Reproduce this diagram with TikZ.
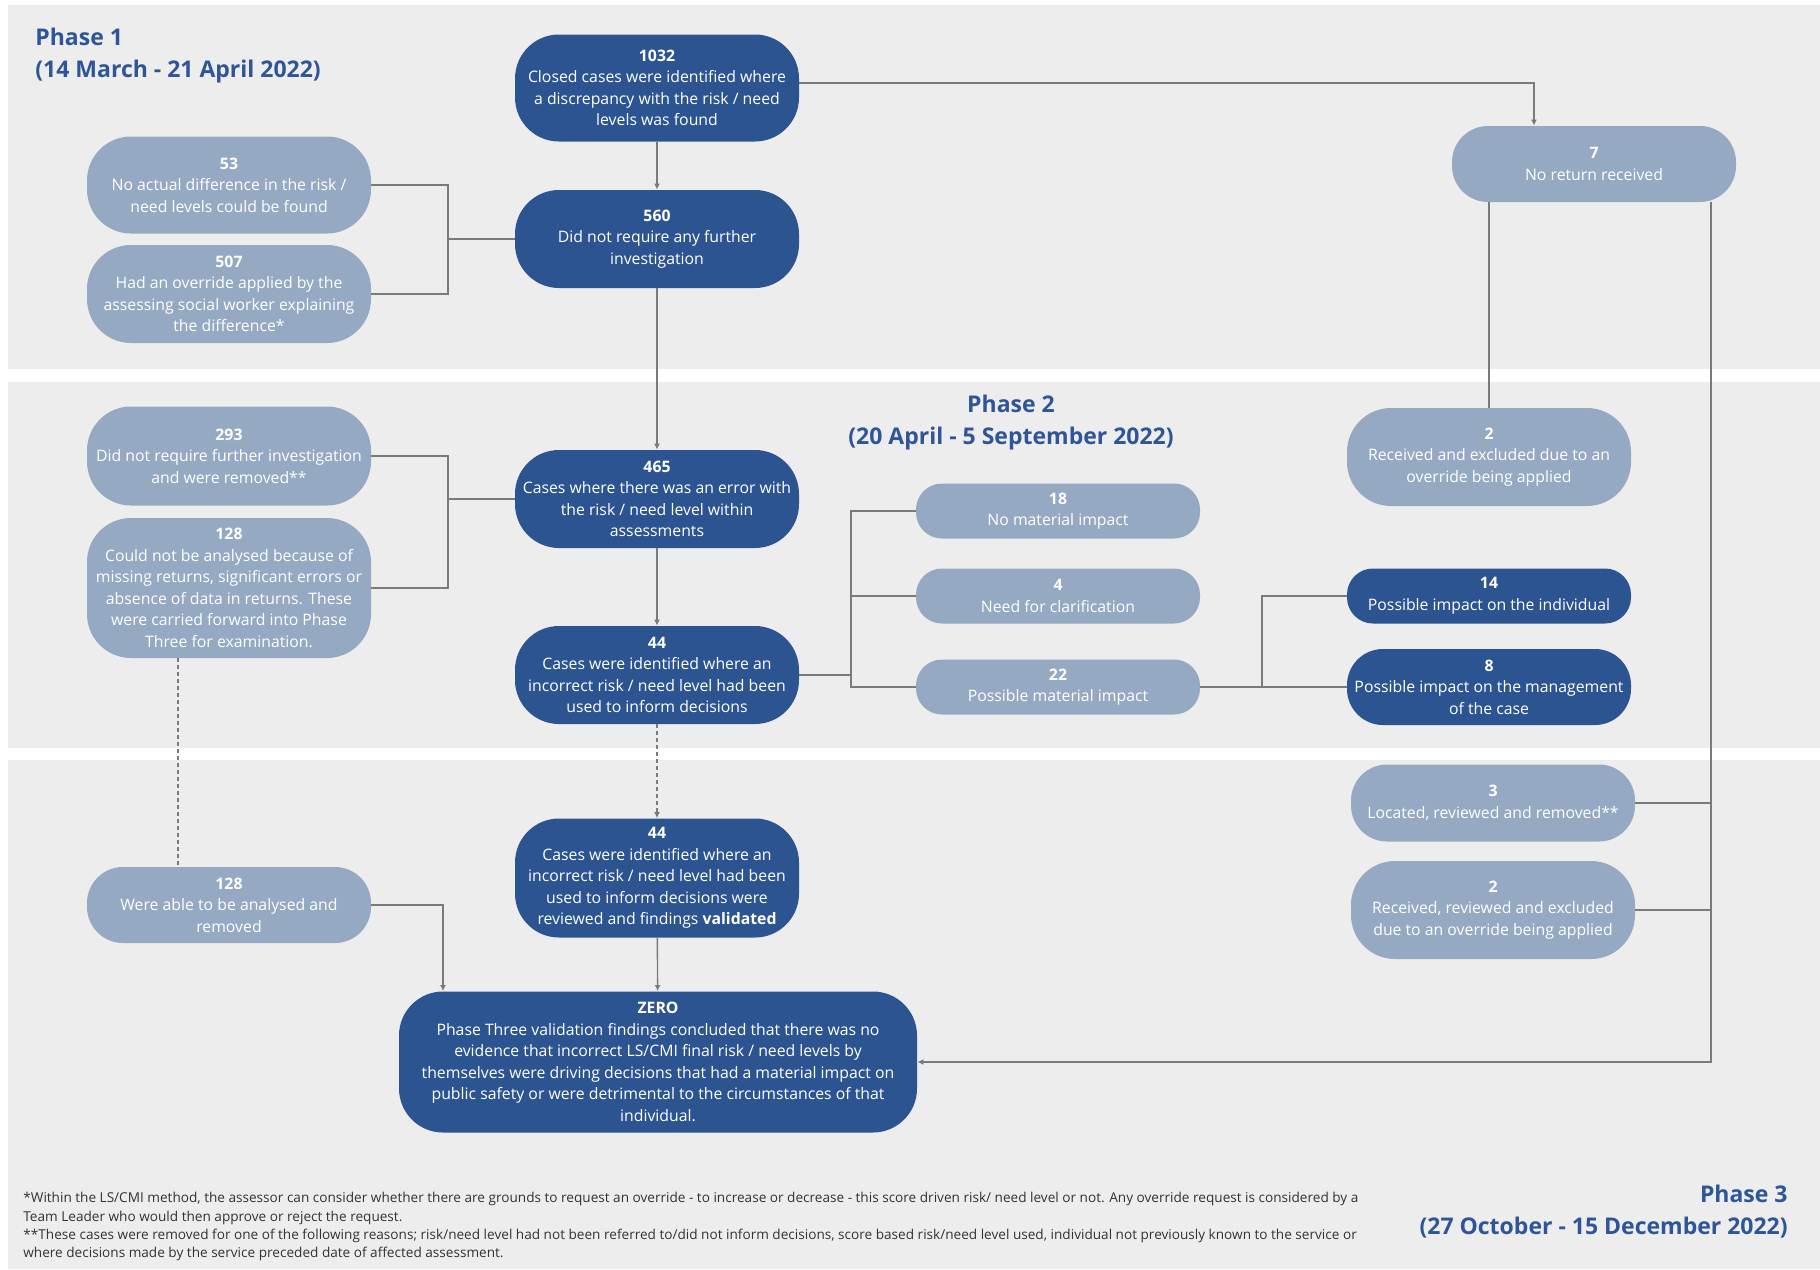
\documentclass[tikz,border=0pt]{standalone}
\usepackage{fontspec}
\setmainfont{Open Sans}
\usetikzlibrary{arrows.meta}
\definecolor{darkblue}{HTML}{2C5491}
\definecolor{lightblue}{HTML}{95A9C3}
\definecolor{bandgray}{HTML}{EDEDED}
\definecolor{linegray}{HTML}{7A7A7A}
\definecolor{titleblue}{HTML}{2E5597}
\definecolor{notegray}{HTML}{333333}
\tikzset{
  box/.style={rounded corners=22pt, align=center, inner sep=0pt, text=white,
    minimum width=142pt, font=\fontsize{7.9}{10.75}\selectfont},
  darkbox/.style={box, fill=darkblue},
  lightbox/.style={box, fill=lightblue},
  pill/.style={rounded corners=13pt, minimum height=27.5pt},
  link/.style={draw=linegray, line width=0.7pt},
  arrow/.style={link, -{Latex[length=3pt,width=3pt]}},
  phasetitle/.style={text=titleblue, inner sep=0pt, font=\fontsize{11.5}{16}\selectfont\bfseries}
}
\begin{document}
\begin{tikzpicture}[x=0.5pt,y=-0.5pt]
\useasboundingbox (0,0) rectangle (1820,1269);
\fill[white] (0,0) rectangle (1820,1269);
% bandes des phases
\fill[bandgray] (8,5) rectangle (1820,369);
\fill[bandgray] (8,382) rectangle (1820,748);
\fill[bandgray] (8,760) rectangle (1820,1269);
\node[phasetitle, anchor=north west, align=left] (ph1) at (35,28) {Phase 1\\(14 March - 21 April 2022)};
\node[phasetitle, align=center] (ph2) at (1011,423) {Phase 2\\(20 April - 5 September 2022)};
\node[phasetitle, anchor=east, align=right] (ph3) at (1788,1212) {Phase 3\\(27 October - 15 December 2022)};
% phase 1
\node[darkbox, minimum height=53.5pt] (n1032) at (657,88) {\textbf{1032}\\Closed cases were identified where\\a discrepancy with the risk / need\\levels was found};
\node[darkbox, minimum height=49pt] (n560) at (657,239) {\textbf{560}\\Did not require any further\\investigation};
\node[lightbox, minimum height=48.5pt] (n53) at (229,185) {\textbf{53}\\No actual difference in the risk /\\need levels could be found};
\node[lightbox, minimum height=49pt] (n507) at (229,294) {\textbf{507}\\Had an override applied by the\\assessing social worker explaining\\the difference*};
\node[lightbox, rounded corners=18pt, minimum height=38pt] (n7) at (1594,164) {\textbf{7}\\No return received};
% phase 2
\node[lightbox, minimum height=49.5pt] (n293) at (229,456) {\textbf{293}\\Did not require further investigation\\and were removed**};
\node[lightbox, minimum height=70pt] (n128a) at (229,588) {\textbf{128}\\Could not be analysed because of\\missing returns, significant errors or\\absence of data in returns. These\\were carried forward into Phase\\Three for examination.};
\node[darkbox, minimum height=49pt] (n465) at (657,499) {\textbf{465}\\Cases where there was an error with\\the risk / need level within\\assessments};
\node[darkbox, minimum height=49pt] (n44a) at (657,675) {\textbf{44}\\Cases were identified where an\\incorrect risk / need level had been\\used to inform decisions};
\node[lightbox, minimum height=49pt] (n2a) at (1489,457) {\textbf{2}\\Received and excluded due to an\\override being applied};
\node[lightbox, pill] (n18) at (1058,511) {\textbf{18}\\No material impact};
\node[lightbox, pill] (n4) at (1058,596) {\textbf{4}\\Need for clarification};
\node[lightbox, pill] (n22) at (1058,687) {\textbf{22}\\Possible material impact};
\node[darkbox, pill] (n14) at (1489,596) {\textbf{14}\\Possible impact on the individual};
\node[darkbox, rounded corners=18pt, minimum height=38pt] (n8) at (1489,687) {\textbf{8}\\Possible impact on the management\\of the case};
% phase 3
\node[darkbox, minimum height=59.5pt] (n44b) at (657,878) {\textbf{44}\\Cases were identified where an\\incorrect risk / need level had been\\used to inform decisions were\\reviewed and findings \textbf{validated}};
\node[lightbox, rounded corners=18pt, minimum height=38pt] (n128b) at (229,905) {\textbf{128}\\Were able to be analysed and\\removed};
\node[darkbox, minimum width=259pt, minimum height=70.5pt] (nZero) at (658,1062) {\textbf{ZERO}\\Phase Three validation findings concluded that there was no\\evidence that incorrect LS/CMI final risk / need levels by\\themselves were driving decisions that had a material impact on\\public safety or were detrimental to the circumstances of that\\individual.};
\node[lightbox, rounded corners=18pt, minimum height=38.5pt] (n3) at (1493,803) {\textbf{3}\\Located, reviewed and removed**};
\node[lightbox, minimum height=49pt] (n2b) at (1493,910) {\textbf{2}\\Received, reviewed and excluded\\due to an override being applied};
% liens
\coordinate (j1) at (448,239);
\coordinate (j2) at (448,499);
\coordinate (j3) at (851,675);
\coordinate (j4) at (1262,687);
\coordinate (j5) at (1711,1062);
\draw[arrow] ([yshift=2.5pt]n1032.east) -| ([xshift=-30pt]n7.north);
\draw[arrow] (n1032) -- (n560);
\draw[link] (n53.east) -| (j1) |- (n507.east);
\draw[link] (j1) -- (n560.west);
\draw[arrow] (n560) -- (n465);
\draw[link] (n293.east) -| (j2) |- (n128a.east);
\draw[link] (j2) -- (n465.west);
\draw[arrow] (n465) -- (n44a);
\draw[link] (n44a.east) -- (j3);
\draw[link] (n18.west) -| (j3) |- (n22.west);
\draw[link] (n4.west) -- (n4.west -| j3);
\draw[link] (n22.east) -- (j4);
\draw[link] (n14.west) -| (j4) |- (n8.west);
\draw[link] (n2a.north) -- (n2a.north |- n7.south);
\draw[arrow] ([xshift=58.5pt]n7.south) |- (nZero.east);
\draw[link] (n3.east) -- (n3.east -| j5);
\draw[link] (n2b.east) -- (n2b.east -| j5);
\draw[arrow, dash pattern=on 2pt off 1.5pt] (n44a) -- (n44b);
\draw[link, dash pattern=on 2pt off 1.5pt] ([xshift=-25.5pt]n128a.south) -- ([xshift=-25.5pt]n128b.north);
\draw[arrow] (n128b.east) -| ([xshift=-107.5pt]nZero.north);
\draw[arrow] (n44b) -- (nZero);
% notes
\node[anchor=north west, align=left, inner sep=0pt, text=notegray, font=\fontsize{6.8}{9.2}\selectfont] (notes) at (23,1192) {*Within the LS/CMI method, the assessor can consider whether there are grounds to request an override - to increase or decrease - this score driven risk/ need level or not. Any override request is considered by a\\Team Leader who would then approve or reject the request.\\**These cases were removed for one of the following reasons; risk/need level had not been referred to/did not inform decisions, score based risk/need level used, individual not previously known to the service or\\where decisions made by the service preceded date of affected assessment.};
\end{tikzpicture}
\end{document}
